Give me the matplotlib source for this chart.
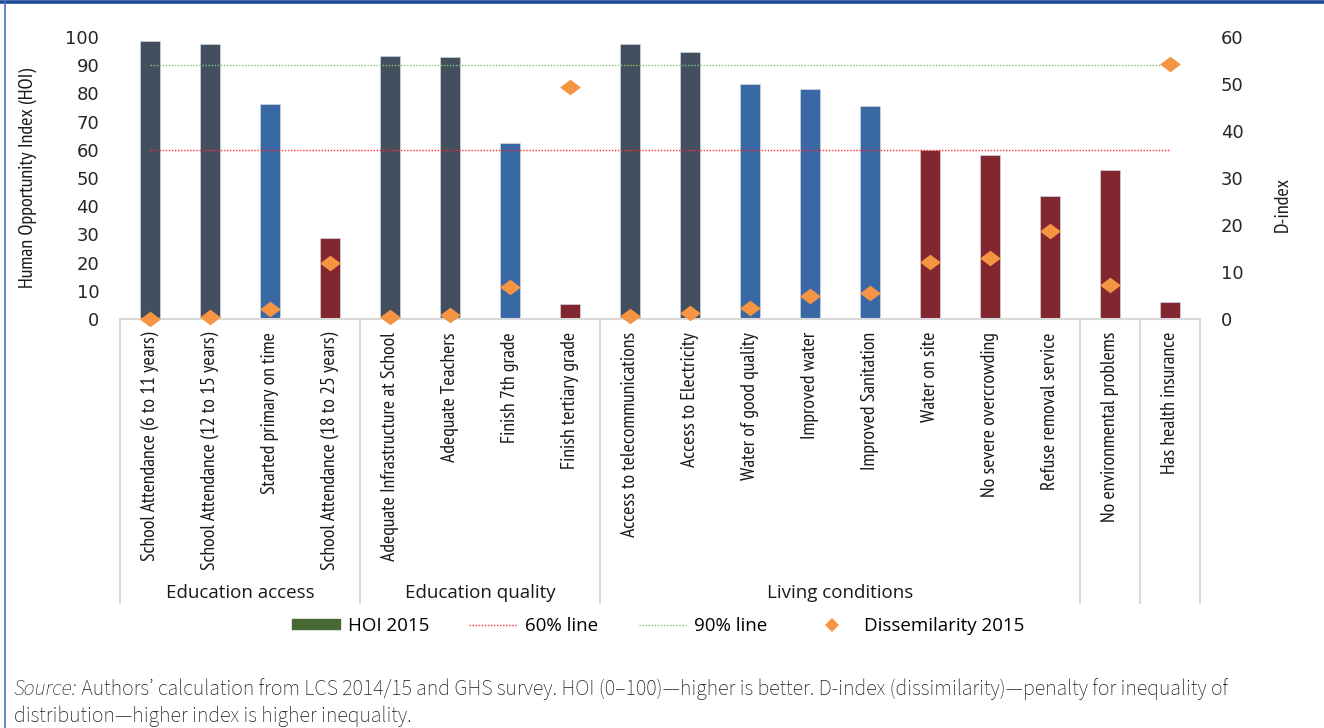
import matplotlib
matplotlib.use('Agg')
import matplotlib.pyplot as plt
import numpy as np
from matplotlib.patches import Patch
from matplotlib.lines import Line2D

COND = ['PT Sans Narrow', 'DejaVu Sans']
SEGOE = ['Open Sans', 'DejaVu Sans']
MYRIAD = ['Source Sans 3', 'DejaVu Sans']
TICKS = ['DejaVu Sans']

categories = ['School Attendance (6 to 11 years)', 'School Attendance (12 to 15 years)',
              'Started primary on time', 'School Attendance (18 to 25 years)',
              'Adequate Infrastructure at School', 'Adequate Teachers',
              'Finish 7th grade', 'Finish tertiary grade',
              'Access to telecommunications', 'Access to Electricity',
              'Water of good quality', 'Improved water', 'Improved Sanitation',
              'Water on site', 'No severe overcrowding', 'Refuse removal service',
              'No environmental problems', 'Has health insurance']
hoi = [98.6, 97.5, 76.2, 28.7, 93.3, 92.9, 62.4, 5.3, 97.5, 94.7,
       83.3, 81.6, 75.5, 60.0, 58.2, 43.6, 52.8, 6.0]
dindex = [0.0, 0.4, 2.1, 11.9, 0.4, 0.9, 6.8, 49.4, 0.6, 1.3,
          2.3, 4.9, 5.5, 12.1, 13.0, 18.7, 7.2, 54.3]
groups = ['Education access', 'Education quality', 'Living conditions', '', '']
group_sizes = [4, 4, 8, 1, 1]

def bar_color(v):
    if v >= 90:
        return '#434f5f'
    if v >= 60.5:
        return '#3a68a5'
    return '#822630'

colors = [bar_color(v) for v in hoi]
x = np.arange(len(categories))

fig = plt.figure(figsize=(13.24, 7.28), dpi=100)
ax = fig.add_axes([120/1324, 1 - 319/728, 1080/1324, 282/728])
ax2 = ax.twinx()

ax.bar(x, hoi, width=0.34, color=colors, edgecolor='#d0d6df', linewidth=0.5, zorder=2)
ax.plot([x[0], x[-1]], [60, 60], color='#ff2a2a', linestyle=(0, (1, 1.2)), linewidth=1.0, zorder=3)
ax.plot([x[0], x[-1]], [90, 90], color='#8cc46a', linestyle=(0, (1, 1.2)), linewidth=1.0, zorder=3)

diamond = [(-1, 0), (0, 0.75), (1, 0), (0, -0.75), (-1, 0)]
ax2.plot(x, dindex, linestyle='none', marker=diamond, markersize=15,
         color='#f59443', markeredgewidth=0, zorder=4, clip_on=False)

ax.set_xlim(-0.5, len(categories) - 0.5)
ax.set_ylim(0, 100)
ax2.set_ylim(0, 60)
ax.set_yticks(np.arange(0, 101, 10))
ax2.set_yticks(np.arange(0, 61, 10))
ax.set_xticks([])
for a in (ax, ax2):
    for s in a.spines.values():
        s.set_visible(False)
ax.tick_params(axis='y', length=0, pad=15, labelsize=13, labelcolor='#262626')
ax2.tick_params(axis='y', length=0, pad=15, labelsize=13, labelcolor='#262626')
for lab in ax.get_yticklabels() + ax2.get_yticklabels():
    lab.set_family(TICKS)

ax.set_ylabel('Human Opportunity Index (HOI)', family=COND, fontsize=14.5, color='#1a1a1a')
ax.yaxis.set_label_coords(-0.077, 0.5)
fig.text(1283/1324, 1 - 205/728, 'D-index', rotation=90, ha='center', va='center',
         family=COND, fontsize=14.5, color='#1a1a1a')

# category axis with grouped labels
tr = ax.get_xaxis_transform()
ax.plot([-0.5, len(categories) - 0.5], [0, 0], color='#d9d9d9', linewidth=1.5,
        transform=tr, clip_on=False, zorder=5)
bounds = np.concatenate([[0], np.cumsum(group_sizes)]) - 0.5
for b in bounds:
    ax.plot([b, b], [0, -284/282], color='#d9d9d9', linewidth=1.5, transform=tr, clip_on=False)
for i, name in enumerate(categories):
    ax.text(x[i], -13/282, name, rotation=90, ha='center', va='top', transform=tr,
            family=COND, fontsize=14.2, color='#1a1a1a')
for g, name in enumerate(groups):
    ax.text((bounds[g] + bounds[g + 1]) / 2, -274/282, name, ha='center', va='center',
            transform=tr, family=SEGOE, fontsize=13.5, color='#1a1a1a')

handles = [Patch(color='#476a34'),
           Line2D([0], [0], color='#ff2a2a', linestyle=(0, (1, 1.2)), linewidth=1.0),
           Line2D([0], [0], color='#8cc46a', linestyle=(0, (1, 1.2)), linewidth=1.0),
           Line2D([0], [0], linestyle='none', marker='D', markersize=7, color='#f59443',
                  markeredgewidth=0)]
labels = ['HOI 2015', '60% line', '90% line', 'Dissemilarity 2015']
fig.legend(handles, labels, loc='center', bbox_to_anchor=(0.497, 1 - 626/728), ncol=4,
           frameon=False, prop={'family': SEGOE, 'size': 13.5}, handlelength=2.55,
           handleheight=0.45, columnspacing=2.15, handletextpad=0.43)

# source note
src = fig.text(14/1324, 1 - 689/728, 'Source:', style='italic', ha='left', va='center',
               family=MYRIAD, fontsize=15.7, color='#1a1a1a')
fig.add_artist(plt.Annotation(" Authors\u2019 calculation from LCS 2014/15 and GHS survey. HOI (0\u2013100)\u2014higher is better. "
                              "D-index (dissimilarity)\u2014penalty for inequality of",
                              xy=(1, 0.5), xycoords=src, ha='left', va='center',
                              family=MYRIAD, fontsize=15.7, color='#1a1a1a'))
fig.text(14/1324, 1 - 716/728, 'distribution\u2014higher index is higher inequality.', ha='left', va='center',
         family=MYRIAD, fontsize=15.7, color='#1a1a1a')

# frame
fig.add_artist(Line2D([0, 1], [1 - 1.5/728, 1 - 1.5/728], color='#1f4a99', linewidth=2.6))
fig.add_artist(Line2D([4.5/1324, 4.5/1324], [0, 1], color='#4a74c4', linewidth=1.2))

fig.savefig('out.png', dpi=100)
